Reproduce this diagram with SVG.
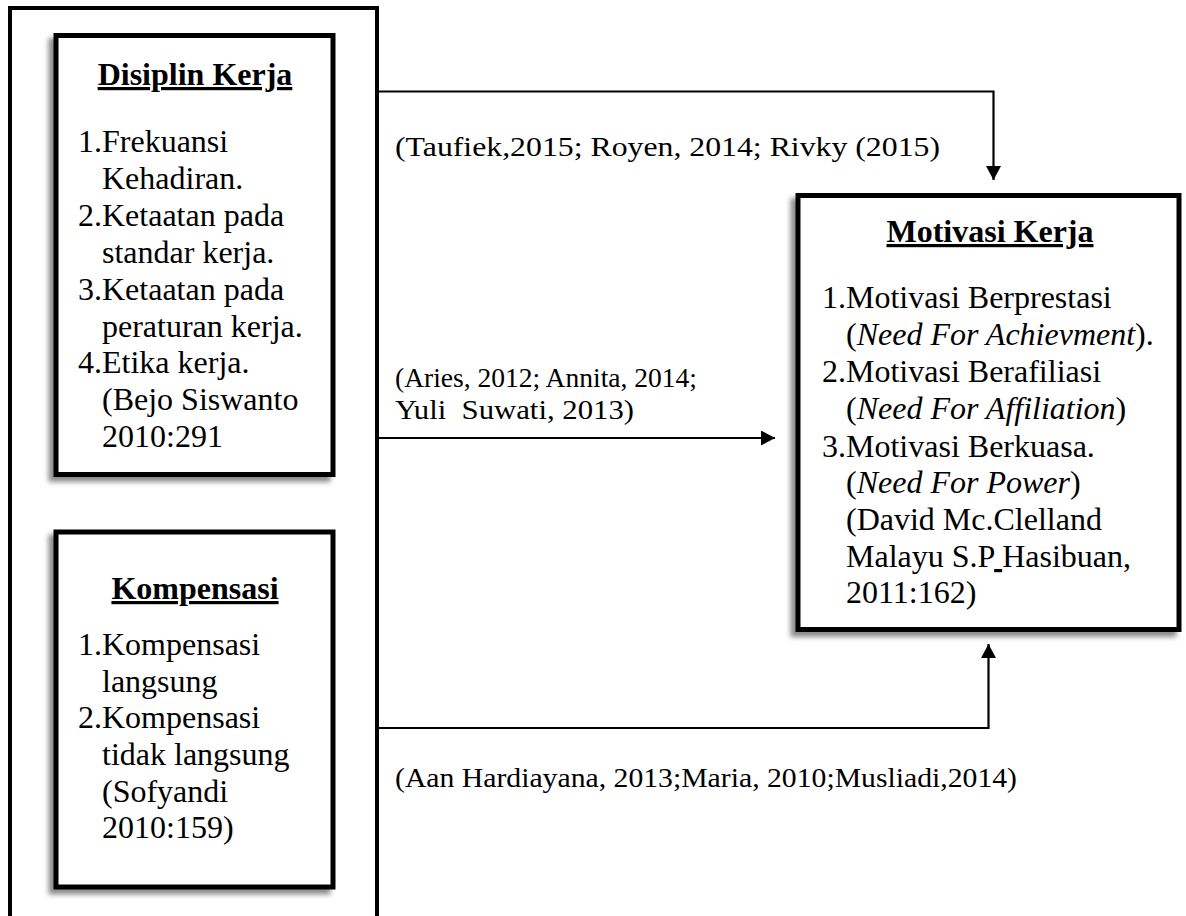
<svg xmlns="http://www.w3.org/2000/svg" width="1186" height="916" viewBox="0 0 1186 916">
<style>
text { font-family: "Liberation Serif", "Times New Roman", serif; fill: #000; }
.t { font-size: 32px; }
.h { font-size: 32px; font-weight: bold; text-decoration: underline; text-anchor: middle; }
.c { font-size: 28px; white-space: pre; }
.box { fill: #fff; stroke: #000; stroke-width: 5; filter: url(#sh); }
.ln { fill: none; stroke: #000; stroke-width: 2.2; }
</style>
<defs>
<filter id="sh" x="-20%" y="-20%" width="140%" height="140%">
<feDropShadow dx="-5" dy="5" stdDeviation="2.5" flood-color="#000" flood-opacity="0.45"/>
</filter>
<marker id="ah" viewBox="0 0 14 15" refX="14" refY="7.5" markerWidth="14" markerHeight="15" markerUnits="userSpaceOnUse" orient="auto">
<path d="M0,0 L14,7.5 L0,15 Z" fill="#000"/>
</marker>
</defs>
<rect width="1186" height="916" fill="#fff"/>
<g id="frame">
<path d="M10,930 V8 H377 V930" fill="none" stroke="#000" stroke-width="4"/>
</g>
<g id="connectors">
<path class="ln" d="M377,91.5 H993.5 V180" marker-end="url(#ah)"/>
<path class="ln" d="M377,438 H775" marker-end="url(#ah)"/>
<path class="ln" d="M377,728 H988.5 V644" marker-end="url(#ah)"/>
<text class="c" x="395" y="156" textLength="545" lengthAdjust="spacingAndGlyphs">(Taufiek,2015; Royen, 2014; Rivky (2015)</text>
<text class="c" x="395" y="387" textLength="302" lengthAdjust="spacingAndGlyphs">(Aries, 2012; Annita, 2014;</text>
<text class="c" x="395" y="419" textLength="239" lengthAdjust="spacingAndGlyphs">Yuli  Suwati, 2013)</text>
<text class="c" x="395" y="787" textLength="622" lengthAdjust="spacingAndGlyphs">(Aan Hardiayana, 2013;Maria, 2010;Musliadi,2014)</text>
</g>
<g id="disiplin">
<rect class="box" x="56" y="35.5" width="277" height="439"/>
<text class="h" x="195" y="85">Disiplin Kerja</text>
<text class="t" x="78" y="152">1.Frekuansi</text>
<text class="t" x="102" y="189">Kehadiran.</text>
<text class="t" x="78" y="226">2.Ketaatan pada</text>
<text class="t" x="102" y="263">standar kerja.</text>
<text class="t" x="78" y="300">3.Ketaatan pada</text>
<text class="t" x="102" y="337">peraturan kerja.</text>
<text class="t" x="78" y="373">4.Etika kerja.</text>
<text class="t" x="102" y="410">(Bejo Siswanto</text>
<text class="t" x="102" y="447">2010:291</text>
</g>
<g id="kompensasi">
<rect class="box" x="56" y="532" width="277" height="355"/>
<text class="h" x="195" y="599">Kompensasi</text>
<text class="t" x="78" y="655">1.Kompensasi</text>
<text class="t" x="102" y="692">langsung</text>
<text class="t" x="78" y="728">2.Kompensasi</text>
<text class="t" x="102" y="765">tidak langsung</text>
<text class="t" x="102" y="802">(Sofyandi</text>
<text class="t" x="102" y="838">2010:159)</text>
</g>
<g id="motivasi">
<rect class="box" x="798" y="195.5" width="381" height="434"/>
<text class="h" x="990" y="242">Motivasi Kerja</text>
<text class="t" x="822" y="308">1.Motivasi Berprestasi</text>
<text class="t" x="846" y="345">(<tspan font-style="italic">Need For Achievment</tspan>).</text>
<text class="t" x="822" y="382">2.Motivasi Berafiliasi</text>
<text class="t" x="846" y="419">(<tspan font-style="italic">Need For Affiliation</tspan>)</text>
<text class="t" x="822" y="457">3.Motivasi Berkuasa.</text>
<text class="t" x="846" y="493">(<tspan font-style="italic">Need For Power</tspan>)</text>
<text class="t" x="846" y="530">(David Mc.Clelland</text>
<text class="t" x="846" y="567" style="white-space:pre">Malayu S.P<tspan text-decoration="underline"> </tspan>Hasibuan,</text>
<text class="t" x="846" y="603">2011:162)</text>
</g>
</svg>
